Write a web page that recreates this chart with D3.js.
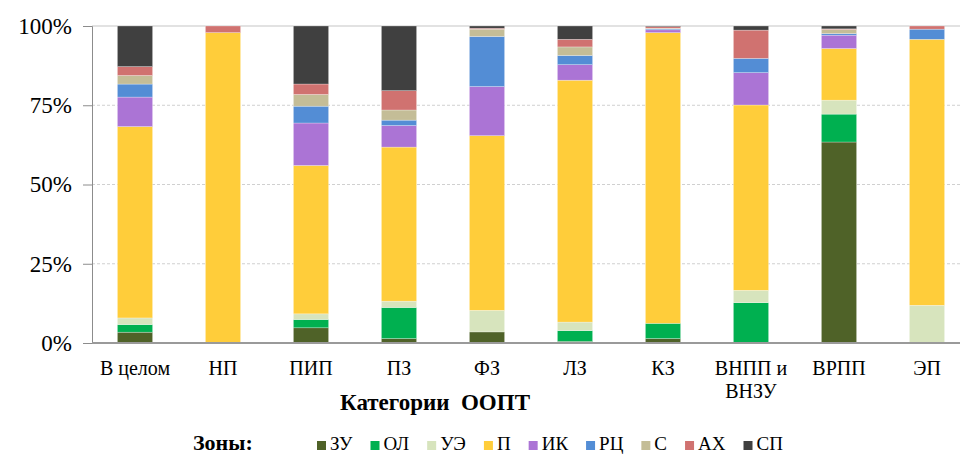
<!DOCTYPE html>
<html>
<head>
<meta charset="utf-8">
<script src="https://cdn.jsdelivr.net/npm/d3@7"></script>
</head>
<body style="margin:0">
<script>
// categories (x axis), "\n" marks a wrapped label
const categories = ["В целом", "НП", "ПИП", "ПЗ", "ФЗ", "ЛЗ", "КЗ", "ВНПП и\nВНЗУ", "ВРПП", "ЭП"];
const zones = ["ЗУ", "ОЛ", "УЭ", "П", "ИК", "РЦ", "С", "АХ", "СП"];
const zoneColors = ["#4f6228", "#00b050", "#d7e4bd", "#ffcd3a", "#ab74d5", "#538dd5", "#c4bd97", "#d07270", "#404040"];

// share of each zone per category, %
const zu = [3.4, 0, 4.8, 1.4, 3.5, 0.5, 1.4, 0, 63.4, 0];
const ol = [2.4, 0, 2.6, 9.8, 0, 3.4, 4.8, 12.7, 8.8, 0];
const ue = [2.1, 0, 1.8, 2.0, 6.8, 2.7, 0, 3.9, 4.4, 11.9];
const p = [60.3, 97.9, 46.8, 48.6, 55.1, 76.3, 91.7, 58.4, 16.3, 83.9];
const ik = [9.3, 0, 13.4, 6.8, 15.5, 4.9, 0.9, 10.2, 4.2, 0];
const rc = [4.1, 0, 5.3, 1.7, 15.8, 2.9, 0.3, 4.5, 0.5, 3.2];
const s = [2.7, 0, 3.7, 3.2, 2.3, 2.7, 0.2, 0, 1.3, 0];
const ah = [2.8, 2.1, 3.3, 6.1, 0.3, 2.4, 0.5, 8.9, 0.2, 1.0];
const sp = [12.8, 0, 18.3, 20.4, 0.7, 4.2, 0.2, 1.3, 0.9, 0];

const yTicks = [0, 0.25, 0.5, 0.75, 1];

const FONT = "'Tinos', 'Liberation Serif', 'Times New Roman', monospace";

const series = [zu, ol, ue, p, ik, rc, s, ah, sp];
const rows = categories.map((c, i) => {
    const r = { cat: c };
    zones.forEach((z, j) => r[z] = series[j][i]);
    return r;
});

const stacked = d3.stack()
    .keys(zones)
    .offset(d3.stackOffsetExpand)(rows);

const svg = d3.select("body")
    .append("svg")
    .attr("width", 960)
    .attr("height", 457);

const x = d3.scaleBand()
    .domain(categories)
    .range([91, 971])
    .paddingInner(0.6)
    .paddingOuter(0.3);

const y = d3.scaleLinear()
    .domain([0, 1])
    .range([343, 26]);

// grid lines
svg.append("g")
    .selectAll("line")
    .data(yTicks.filter(d => d > 0))
    .enter()
    .append("line")
    .attr("x1", 92)
    .attr("x2", 960)
    .attr("y1", d => y(d))
    .attr("y2", d => y(d))
    .attr("stroke", d => d === 1 ? "#e2e2e2" : "#d0d0d0")
    .attr("stroke-width", d => d === 1 ? 2 : 1)
    .attr("stroke-dasharray", d => d === 1 ? null : "3,2");

// bars
svg.append("g")
    .selectAll("g")
    .data(stacked)
    .enter()
    .append("g")
    .attr("fill", (d, i) => zoneColors[i])
    .selectAll("rect")
    .data(d => d)
    .enter()
    .append("rect")
    .attr("x", d => x(d.data.cat))
    .attr("y", d => y(d[1]))
    .attr("width", x.bandwidth())
    .attr("height", d => Math.max(0, y(d[0]) - y(d[1])))
    .attr("stroke", "rgba(255,255,255,0.45)")
    .attr("stroke-width", 0.6);

// y axis
const yAxis = svg.append("g")
    .attr("transform", "translate(92,0)")
    .call(d3.axisLeft(y).tickValues(yTicks).tickFormat(d3.format(".0%")).tickSize(9).tickPadding(11));
yAxis.select(".domain").attr("stroke", "#8c8c8c");
yAxis.selectAll(".tick line").attr("stroke", "#8c8c8c");
yAxis.selectAll("text")
    .style("font-family", FONT)
    .style("font-size", "23px")
    .style("fill", "#000");

// x baseline
svg.append("line")
    .attr("x1", 92)
    .attr("x2", 960)
    .attr("y1", y(0))
    .attr("y2", y(0))
    .attr("stroke", "#9a9a9a")
    .attr("stroke-width", 2);

// category labels
const xl = svg.append("g")
    .selectAll("text")
    .data(categories)
    .enter()
    .append("text")
    .attr("text-anchor", "middle")
    .style("font-family", FONT)
    .style("font-size", "20px");
xl.each(function(c) {
    const cx = x(c) + x.bandwidth() / 2;
    c.split("\n").forEach((line, k) => {
        d3.select(this).append("tspan")
            .attr("x", cx)
            .attr("y", 375 + k * 23)
            .text(line);
    });
});

// axis title
svg.append("text")
    .attr("x", 435)
    .attr("y", 410)
    .attr("text-anchor", "middle")
    .style("font-family", FONT)
    .style("font-size", "23px")
    .style("font-weight", "bold")
    .style("white-space", "pre")
    .text("Категории  ООПТ");

// legend
svg.append("text")
    .attr("x", 193)
    .attr("y", 450)
    .style("font-family", FONT)
    .style("font-size", "22px")
    .style("font-weight", "bold")
    .text("Зоны:");

let lx = 317;
zones.forEach((z, i) => {
    svg.append("rect")
        .attr("x", lx)
        .attr("y", 441)
        .attr("width", 9)
        .attr("height", 9)
        .attr("fill", zoneColors[i]);
    const t = svg.append("text")
        .attr("x", lx + 13)
        .attr("y", 450)
        .style("font-family", FONT)
        .style("font-size", "19px")
        .text(z);
    lx += 13 + t.node().getComputedTextLength() + 18;
});
</script>
</body>
</html>
